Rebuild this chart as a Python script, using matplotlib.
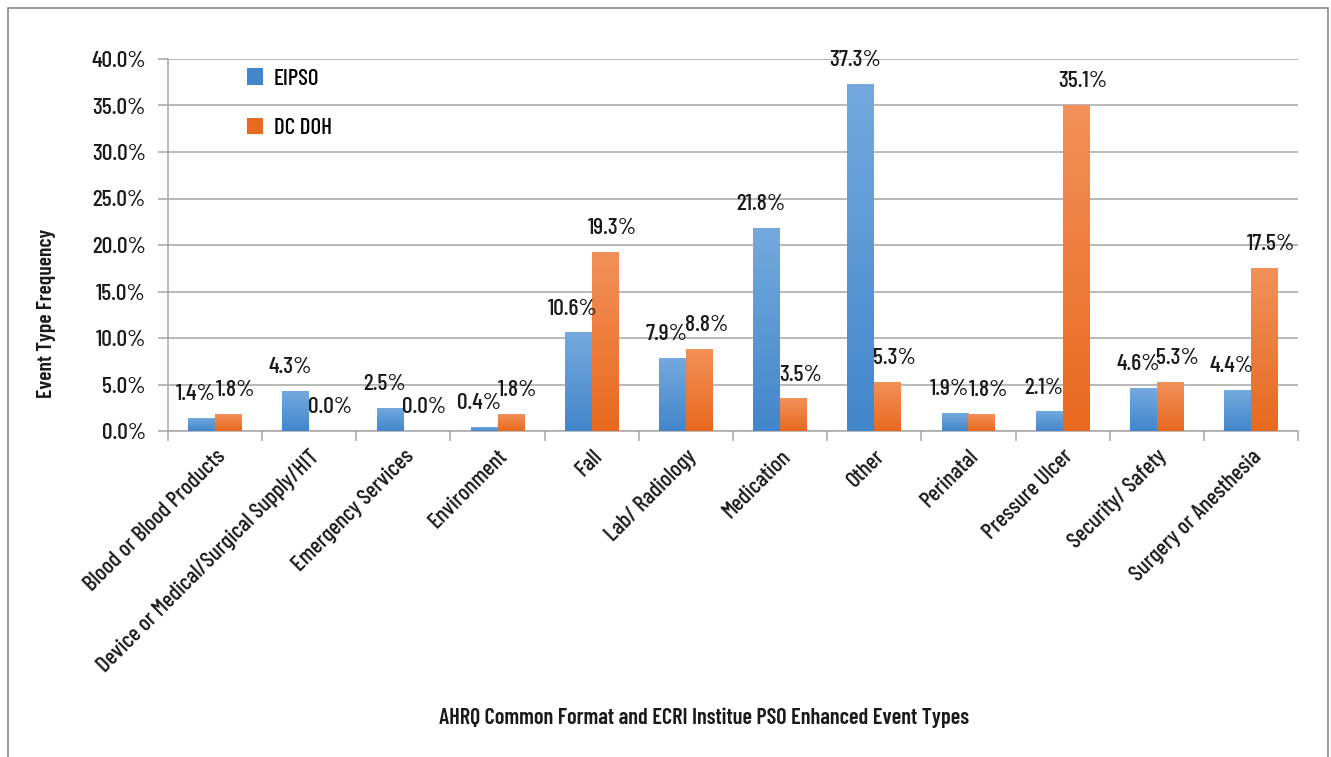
import numpy as np
import matplotlib
matplotlib.use("Agg")
import matplotlib.pyplot as plt
from matplotlib.patches import Rectangle
from matplotlib.colors import LinearSegmentedColormap

categories = ["Blood or Blood Products", "Device or Medical/Surgical Supply/HIT",
              "Emergency Services", "Environment", "Fall", "Lab/ Radiology",
              "Medication", "Other", "Perinatal", "Pressure Ulcer",
              "Security/ Safety", "Surgery or Anesthesia"]
eipso = [1.4, 4.3, 2.5, 0.4, 10.6, 7.9, 21.8, 37.3, 1.9, 2.1, 4.6, 4.4]
dc_doh = [1.8, 0.0, 0.0, 1.8, 19.3, 8.8, 3.5, 5.3, 1.8, 35.1, 5.3, 17.5]
series_names = ["EIPSO", "DC DOH"]
y_ticks = [0, 5, 10, 15, 20, 25, 30, 35, 40]

plt.rcParams["font.family"] = ["Barlow Condensed", "DejaVu Sans"]
plt.rcParams["font.weight"] = 500

W, H, DPI = 1331, 757, 100
fig = plt.figure(figsize=(W / DPI, H / DPI), dpi=DPI)
fig.patch.set_facecolor("white")

# outer chart border
fig.add_artist(Rectangle((8 / W, -0.01), (1328 - 8) / W, 1.01 - 8 / H,
                         transform=fig.transFigure, fill=False,
                         edgecolor="#8c8c8c", linewidth=1.2))

left, right, bottom, top = 168 / W, 1298 / W, 1 - 431 / H, 1 - 59 / H
ax = fig.add_axes([left, bottom, right - left, top - bottom])

x = np.arange(len(categories))
bw = 0.285
colors = {"EIPSO": ("#74aade", "#4286cb"), "DC DOH": ("#f2915a", "#e8691f")}
gray = "#a6a6a6"
ink = "#1a1a1a"

bars_all = []
for vals, name, off in [(eipso, series_names[0], -bw / 2), (dc_doh, series_names[1], bw / 2)]:
    top_c, bot_c = colors[name]
    bars = ax.bar(x + off, vals, width=bw, color=bot_c, label=name, zorder=3,
                  linewidth=0)
    cmap = LinearSegmentedColormap.from_list(name, [bot_c, top_c])
    grad = np.linspace(0, 1, 256).reshape(-1, 1)
    for b in bars:
        if b.get_height() <= 0:
            continue
        bx, by = b.get_x(), b.get_y()
        im = ax.imshow(grad, cmap=cmap, aspect="auto", origin="lower",
                       extent=[bx, bx + b.get_width(), by, by + b.get_height()],
                       zorder=3.5)
        im.set_clip_path(b)
    bars_all.append((bars, vals))

# value labels, EIPSO nudged left and DC DOH nudged right
for (bars, vals), dx in zip(bars_all, (-4, 5)):
    for b, v in zip(bars, vals):
        ax.annotate(f"{v:.1f}%", (b.get_x() + b.get_width() / 2, v),
                    xytext=(dx, 10), textcoords="offset points",
                    ha="center", va="bottom", fontsize=17, color=ink,
                    zorder=5)

ax.set_xlim(-0.5, len(categories) - 0.5)
ax.set_ylim(0, 40)
ax.set_yticks(y_ticks)
ax.set_yticklabels([f"{t:.1f}%" for t in y_ticks], fontsize=17, color=ink)
ax.yaxis.grid(True, color=gray, linewidth=1.1, zorder=0)
ax.set_axisbelow(True)

ax.set_xticks(x)
ax.set_xticklabels(categories, rotation=45, ha="right", va="top",
                   rotation_mode="anchor", fontsize=16.5, color=ink)
ax.tick_params(axis="x", length=0, pad=11)
ax.set_xticks(np.arange(-0.5, len(categories)), minor=True)
ax.tick_params(axis="x", which="minor", length=7, color=gray, width=1.1)
ax.tick_params(axis="y", length=7, color=gray, width=1.1, pad=9)

for s in ["top", "right"]:
    ax.spines[s].set_visible(False)
for s in ["left", "bottom"]:
    ax.spines[s].set_color(gray)
    ax.spines[s].set_linewidth(1.1)

fig.text(47 / W, 1 - 313 / H, "Event Type Frequency", rotation=90,
         ha="center", va="center", fontsize=15.5, fontweight=600, color=ink)
fig.text(704 / W, 1 - 718 / H,
         "AHRQ Common Format and ECRI Institue PSO Enhanced Event Types",
         ha="center", va="center", fontsize=16, fontweight=600, color=ink)

leg = ax.legend(loc="upper left", bbox_to_anchor=(0.052, 1.03), frameon=False,
                fontsize=16.5, handlelength=0.7, handleheight=0.7,
                handletextpad=0.45, labelspacing=1.3)

fig.savefig("out.png", dpi=DPI, facecolor="white")
